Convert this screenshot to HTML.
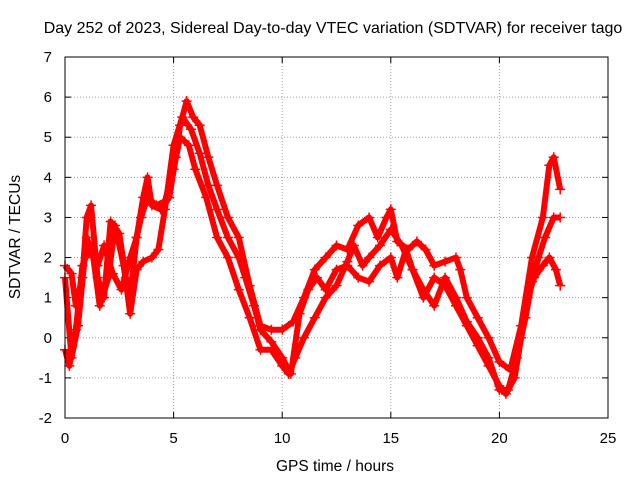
<!DOCTYPE html>
<html><head><meta charset="utf-8"><style>
body{margin:0;background:#fff}
svg{display:block;font-family:"Liberation Sans",sans-serif}
</style></head><body>
<svg id="chart" width="640" height="480" xmlns="http://www.w3.org/2000/svg">
<text x="333" y="33" font-size="16" text-anchor="middle">Day 252 of 2023, Sidereal Day-to-day VTEC variation (SDTVAR) for receiver tago</text>
<text transform="translate(20,237) rotate(-90)" font-size="15.5" text-anchor="middle">SDTVAR / TECUs</text>
<text x="335" y="471" font-size="15.5" text-anchor="middle">GPS time / hours</text>
<g id="grid"></g>
<g id="ticks"></g>
<g id="series"></g>
<rect x="65" y="57" width="543" height="361" fill="none" stroke="#000" stroke-width="1"/>
</svg>
<script>
const xTicks=[0,5,10,15,20,25];
const yTicks=[-2,-1,0,1,2,3,4,5,6,7];
const seriesA_x=[0,0.3,0.5,0.8,1.0,1.2,1.5,1.8,2.1,2.5,2.8,3.0,3.3,3.6,3.8,4.0,4.4,4.8,5.1,5.3,5.6,5.9,6.2,6.6,7.0,7.5,8.0,8.5,9.0,9.5,10.0,10.5,11.0,11.5,12.0,12.5,13.0,13.5,14.0,14.4,14.8,15.0,15.3,15.8,16.2,16.6,17.0,17.5,18.0,18.2,18.5,19.0,19.5,20.0,20.5,21.0,21.5,22.0,22.3,22.5,22.8];
const seriesA_y=[1.8,1.6,0.8,1.5,3.0,3.3,1.5,1.0,2.9,2.6,1.5,1.0,2.5,3.5,4.0,3.3,3.2,3.5,4.5,5.3,5.9,5.5,5.3,4.5,3.8,3.0,2.5,1.3,0.3,0.2,0.2,0.4,1.0,1.7,2.0,2.3,2.2,2.8,3.0,2.5,3.0,3.2,2.4,2.2,2.4,2.2,1.8,1.9,2.0,1.7,1.0,0.5,0.0,-0.6,-0.8,0.3,2.0,3.0,4.3,4.5,3.7];
const seriesB_x=[0,0.3,0.6,1.0,1.3,1.6,2.0,2.3,2.7,3.0,3.3,3.6,4.0,4.3,4.6,5.0,5.4,5.8,6.2,6.6,7.0,7.5,8.0,8.3,8.7,9.0,9.5,10.0,10.4,10.8,11.2,11.6,12.0,12.5,13.0,13.5,14.0,14.5,15.0,15.3,15.7,16.0,16.5,17.0,17.5,18.0,18.5,19.0,19.5,20.0,20.4,20.8,21.2,21.5,21.8,22.1,22.5,22.8];
const seriesB_y=[1.5,-0.5,0.3,2.5,2.0,0.8,1.5,2.8,1.8,0.6,1.7,1.9,2.0,2.2,3.2,4.8,5.5,5.2,4.6,3.8,3.2,2.5,2.0,1.5,0.8,0.2,-0.1,-0.5,-0.9,0.6,1.2,1.5,1.2,1.7,1.8,1.5,1.4,1.8,2.0,1.5,2.2,1.7,1.2,0.8,1.5,1.0,0.4,0.0,-0.5,-1.3,-1.3,-0.5,0.5,1.4,2.0,2.5,3.0,3.0];
const seriesC_x=[0,0.2,0.5,0.8,1.1,1.5,1.8,2.2,2.6,3.0,3.3,3.5,3.8,4.2,4.6,5.0,5.3,5.7,6.0,6.5,7.0,7.5,8.0,8.5,9.0,9.5,10.0,10.3,10.6,11.0,11.5,12.0,12.5,13.0,13.3,13.7,14.0,14.5,15.0,15.5,16.0,16.5,17.0,17.5,18.0,18.5,19.0,19.5,20.0,20.3,20.7,21.0,21.3,21.6,22.0,22.3,22.6,22.8];
const seriesC_y=[-0.3,-0.7,0.2,1.8,2.2,1.8,2.3,1.6,1.2,2.0,2.5,3.0,3.5,3.3,3.4,4.2,5.0,4.8,4.2,3.5,2.5,2.0,1.2,0.5,-0.3,-0.3,-0.7,-0.9,-0.5,0.0,0.5,1.0,1.3,1.9,2.3,1.8,2.0,2.3,2.7,2.3,1.7,1.0,1.5,1.3,0.8,0.3,-0.2,-0.7,-1.2,-1.4,-1.0,0.0,1.0,1.5,1.8,2.0,1.7,1.3];

const NS="http://www.w3.org/2000/svg";
const L=65,R=608,T=57,B=418,xmin=0,xmax=25,ymin=-2,ymax=7;
const sx=v=>L+(v-xmin)/(xmax-xmin)*(R-L);
const sy=v=>B-(v-ymin)/(ymax-ymin)*(B-T);
function mk(tag,attrs,parent){const e=document.createElementNS(NS,tag);for(const k in attrs)e.setAttribute(k,attrs[k]);parent.appendChild(e);return e;}
const grid=document.getElementById('grid'),ticks=document.getElementById('ticks'),ser=document.getElementById('series');
xTicks.forEach(v=>{
  const x=sx(v);
  if(v>xmin&&v<xmax){const g=mk('line',{x1:x,x2:x,y1:T,y2:B,stroke:'#a0a0a0','stroke-dasharray':'1,2'},grid);
  
  }
  mk('line',{x1:x,x2:x,y1:B,y2:B-6,stroke:'#000'},ticks);
  mk('line',{x1:x,x2:x,y1:T,y2:T+6,stroke:'#000'},ticks);
  const t=mk('text',{x:x,y:B+25,'font-size':15,'text-anchor':'middle'},ticks);
  t.textContent=v;
  
  
});
yTicks.forEach(v=>{
  const y=sy(v);
  if(v>ymin&&v<ymax){const g=mk('line',{x1:L,x2:R,y1:y,y2:y,stroke:'#a0a0a0','stroke-dasharray':'1,2'},grid);
  
  }
  mk('line',{x1:L,x2:L+6,y1:y,y2:y,stroke:'#000'},ticks);
  mk('line',{x1:R,x2:R-6,y1:y,y2:y,stroke:'#000'},ticks);
  const t=mk('text',{x:L-13,y:y+5,'font-size':15,'text-anchor':'end'},ticks);
  t.textContent=v;
  
  
});
[[seriesA_x,seriesA_y,'series-a'],[seriesB_x,seriesB_y,'series-b'],[seriesC_x,seriesC_y,'series-c']].forEach(([xs,ys,name])=>{
  const g=mk('g',{},ser);
  
  
  const pts=xs.map((x,i)=>sx(x)+','+sy(ys[i])).join(' ');
  const pl=mk('polyline',{points:pts,fill:'none',stroke:'#ff0000','stroke-width':6,'stroke-linejoin':'round'},g);
  
  
  xs.forEach((x,i)=>{
    const cx=sx(x),cy=sy(ys[i]);
    const p=mk('path',{d:`M${cx-5},${cy}H${cx+5}M${cx},${cy-5}V${cy+5}`,stroke:'#ff0000','stroke-width':1.5},g);
    
    
  });
});
</script>
</body></html>
